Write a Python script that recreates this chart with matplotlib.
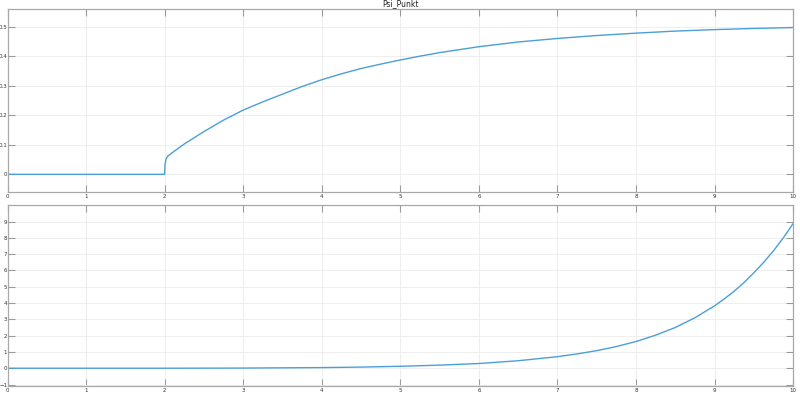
import numpy as np
import matplotlib
matplotlib.use("Agg")
import matplotlib.pyplot as plt

# Psi_Punkt (oben)
t_oben = [0, 2.0, 2.005, 2.02, 2.04, 2.1, 2.25, 2.5, 2.75, 3.0, 3.25, 3.5, 3.75,
          4.0, 4.25, 4.5, 4.75, 5.0, 5.25, 5.5, 5.75, 6.0, 6.5, 7.0, 7.5, 8.0,
          8.5, 9.0, 9.5, 10.0]
psi_punkt = [0, 0, 0.035, 0.053, 0.062, 0.074, 0.103, 0.145, 0.184, 0.218,
             0.246, 0.272, 0.298, 0.321, 0.341, 0.359, 0.374, 0.388, 0.401,
             0.413, 0.423, 0.433, 0.449, 0.461, 0.471, 0.479, 0.486, 0.491,
             0.495, 0.498]

# zweites Signal (unten)
t_unten = [0, 1, 2, 3, 4, 4.5, 5, 5.5, 6, 6.5, 7, 7.25, 7.5, 7.75, 8, 8.25, 8.5,
           8.75, 9, 9.125, 9.25, 9.375, 9.5, 9.625, 9.75, 9.875, 10]
signal2 = [0, 0, 0, 0.01, 0.04, 0.07, 0.12, 0.19, 0.29, 0.46, 0.71, 0.88, 1.08,
           1.33, 1.64, 2.03, 2.5, 3.1, 3.83, 4.26, 4.73, 5.26, 5.86, 6.5, 7.21,
           8.0, 8.88]

xticks = list(range(0, 11))
yticks_oben = [0, 0.1, 0.2, 0.3, 0.4, 0.5]
yticks_unten = list(range(-1, 10))

farbe = '#4a9fd8'
rahmen = '#a8a8a8'

fig = plt.figure(figsize=(8, 4.03), dpi=100)
ax1 = fig.add_axes([0.0094, 0.5228, 0.982, 0.4549])
ax2 = fig.add_axes([0.0094, 0.0422, 0.982, 0.4491])

def stil(ax):
    for s in ax.spines.values():
        s.set_color(rahmen)
        s.set_linewidth(0.9)
    ax.grid(True, color='#ebebeb', linewidth=0.6)
    ax.set_axisbelow(True)
    ax.tick_params(direction='in', length=5, width=0.8, color='#9a9a9a',
                   labelsize=4, labelcolor='#333333', pad=1.5,
                   top=True, right=True)
    ax.tick_params(axis='y', pad=0.3)
    ax.set_xlim(0, 10)
    ax.set_xticks(xticks)

ax1.plot(t_oben, psi_punkt, color=farbe, linewidth=1.0)
stil(ax1)
ax1.set_ylim(-0.061, 0.561)
ax1.set_yticks(yticks_oben)
ax1.set_yticklabels(['0', '0.1', '0.2', '0.3', '0.4', '0.5'])
ax1.set_title('Psi_Punkt', fontsize=5.5, color='#222222', pad=2)

ax2.plot(t_unten, signal2, color=farbe, linewidth=1.0)
stil(ax2)
ax2.set_ylim(-1.09, 10.02)
ax2.set_yticks(yticks_unten)

fig.savefig('out.png', dpi=100)
